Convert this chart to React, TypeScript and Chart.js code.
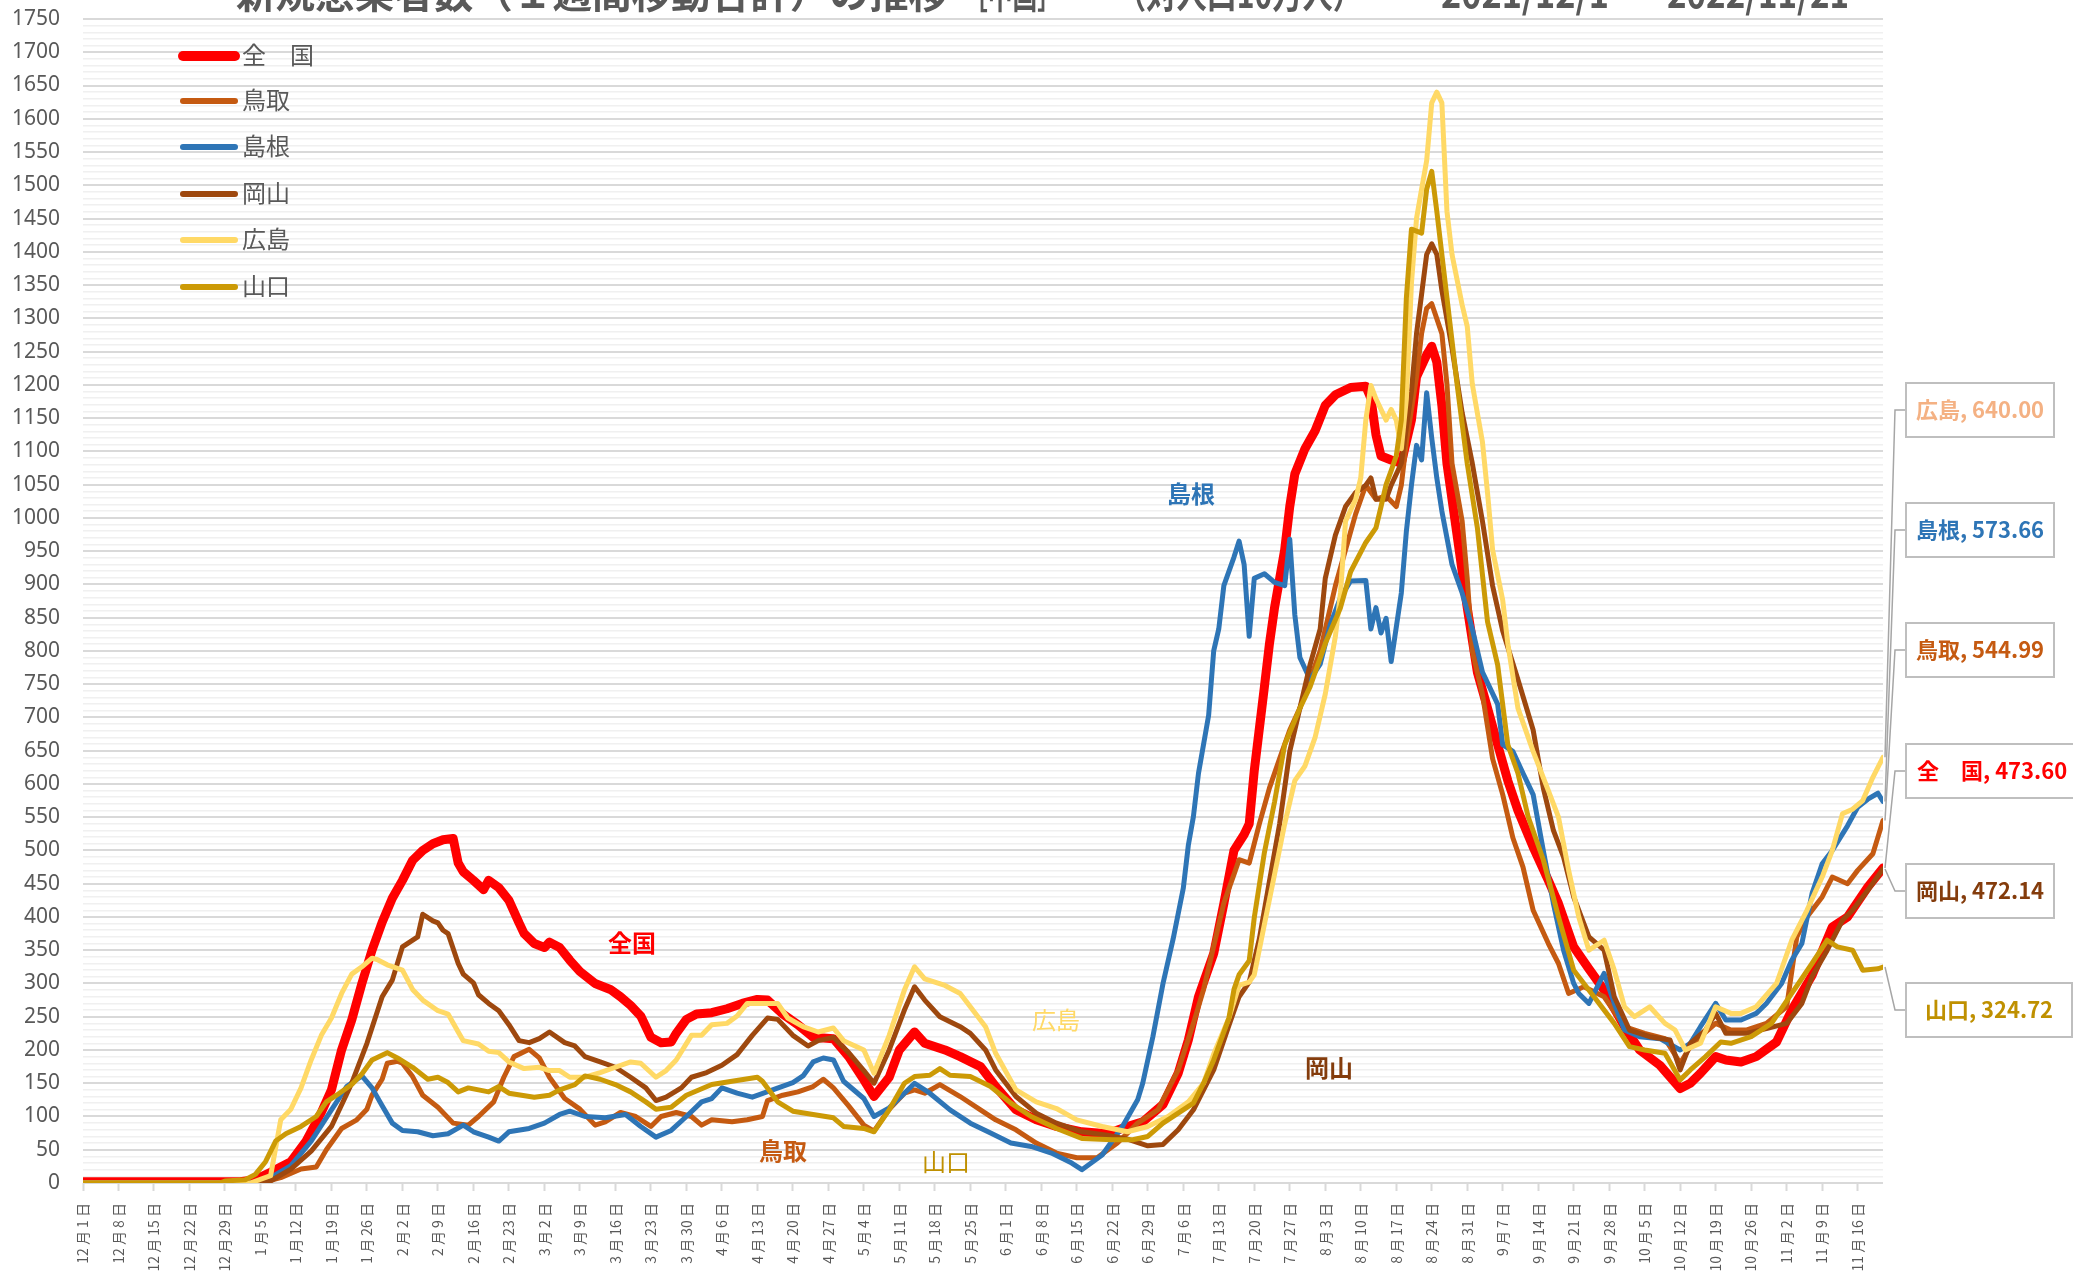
import { useEffect, useRef } from "react";
import { Chart, registerables } from "chart.js";

Chart.register(...registerables);

// ---- data: [day index from 2021/12/1, value per 100k (7-day moving sum)] ----
const zenkoku: [number, number][] = [
  [0, 2], [31, 2], [34, 5], [37, 16], [41, 32], [44, 63], [47, 106], [49, 140], [51, 200], [53, 245], [55, 300], [57, 350], [59, 392], [61, 428], [63, 455], [65, 485], [67, 500], [69, 510], [71, 516], [73, 518], [74, 481], [75, 468], [77, 455], [79, 441], [80, 455], [82, 444], [84, 425], [86, 391], [87, 375], [89, 360], [91, 354], [92, 362], [94, 354], [96, 335], [98, 318], [101, 300], [104, 291], [106, 280], [108, 267], [110, 251], [112, 219], [114, 211], [116, 212], [117, 225], [119, 246], [121, 254], [124, 256], [127, 262], [130, 270], [133, 276], [135, 275], [138, 254], [141, 238], [144, 219], [148, 217], [151, 190], [154, 155], [156, 130], [159, 159], [161, 200], [164, 227], [166, 210], [170, 200], [173, 190], [177, 175], [180, 145], [184, 110], [188, 95], [192, 85], [197, 77], [202, 74], [206, 85], [209, 92], [213, 118], [216, 165], [218, 215], [220, 280], [223, 345], [225, 420], [227, 500], [229, 524], [230, 540], [231, 620], [233, 746], [234, 811], [235, 865], [237, 952], [238, 1017], [239, 1066], [241, 1104], [243, 1131], [245, 1169], [247, 1185], [250, 1196], [253, 1198], [254, 1180], [255, 1125], [256, 1093], [258, 1087], [260, 1082], [262, 1147], [263, 1212], [265, 1245], [266, 1258], [267, 1234], [268, 1169], [269, 1082], [271, 974], [273, 865], [275, 768], [277, 714], [279, 659], [281, 605], [283, 560], [286, 505], [289, 455], [291, 420], [294, 355], [297, 322], [300, 290], [304, 235], [307, 200], [311, 177], [315, 142], [317, 150], [319, 165], [322, 190], [324, 185], [327, 182], [330, 190], [334, 212], [337, 260], [341, 312], [345, 385], [348, 400], [352, 445], [355, 473.6],
];

const tottori: [number, number][] = [
  [0, 0], [35, 0], [39, 8], [43, 21], [46, 24], [48, 50], [51, 82], [54, 95], [56, 111], [57, 132], [59, 156], [60, 180], [62, 183], [63, 180], [65, 160], [67, 132], [70, 114], [73, 90], [76, 87], [78, 100], [81, 122], [83, 159], [85, 190], [88, 201], [90, 188], [92, 159], [95, 127], [98, 111], [101, 87], [103, 92], [106, 106], [109, 100], [112, 85], [114, 100], [117, 106], [120, 100], [122, 87], [124, 95], [128, 92], [131, 95], [134, 100], [135, 124], [138, 132], [141, 137], [144, 145], [146, 156], [148, 143], [151, 116], [154, 87], [156, 78], [159, 111], [162, 135], [164, 140], [166, 135], [169, 148], [173, 130], [177, 110], [180, 95], [184, 80], [188, 60], [192, 45], [196, 38], [200, 38], [204, 60], [208, 90], [212, 110], [216, 170], [219, 240], [221, 291], [223, 356], [225, 421], [227, 464], [228, 486], [230, 481], [232, 540], [234, 594], [236, 638], [238, 681], [240, 714], [242, 757], [244, 800], [246, 865], [247, 898], [249, 952], [251, 1006], [253, 1049], [255, 1028], [257, 1033], [259, 1017], [260, 1049], [261, 1114], [263, 1212], [264, 1277], [265, 1315], [266, 1322], [268, 1277], [269, 1201], [270, 1082], [272, 995], [273, 909], [274, 800], [276, 735], [278, 638], [280, 584], [282, 519], [284, 475], [286, 410], [289, 360], [291, 330], [293, 285], [296, 295], [300, 280], [304, 235], [308, 225], [312, 217], [315, 180], [317, 205], [319, 220], [322, 240], [325, 230], [328, 230], [332, 240], [336, 265], [338, 370], [340, 400], [343, 430], [345, 460], [348, 450], [350, 470], [353, 495], [354, 520], [355, 544.99],
];

const shimane: [number, number][] = [
  [0, 0], [34, 0], [37, 8], [41, 26], [45, 63], [49, 110], [52, 145], [55, 161], [57, 143], [59, 116], [61, 90], [63, 79], [66, 77], [69, 71], [72, 74], [75, 87], [77, 77], [80, 69], [82, 63], [84, 77], [88, 82], [91, 90], [94, 103], [96, 108], [99, 100], [103, 98], [107, 103], [110, 85], [113, 69], [116, 79], [119, 100], [122, 122], [124, 127], [126, 143], [129, 135], [132, 129], [136, 140], [140, 151], [142, 161], [144, 182], [146, 188], [148, 185], [150, 153], [154, 127], [156, 100], [159, 113], [162, 135], [164, 150], [167, 135], [171, 110], [175, 90], [179, 75], [183, 60], [187, 55], [191, 45], [195, 30], [197, 20], [201, 42], [205, 85], [208, 125], [209, 150], [211, 220], [213, 300], [215, 367], [217, 443], [218, 508], [219, 551], [220, 616], [222, 703], [223, 800], [224, 833], [225, 898], [227, 941], [228, 965], [229, 930], [230, 822], [231, 909], [233, 916], [235, 903], [237, 898], [238, 968], [239, 854], [240, 790], [242, 757], [244, 780], [246, 840], [248, 880], [250, 905], [253, 906], [254, 833], [255, 865], [256, 827], [257, 849], [258, 784], [260, 887], [261, 980], [262, 1049], [263, 1109], [264, 1087], [265, 1188], [266, 1120], [267, 1060], [268, 1010], [270, 930], [272, 887], [274, 833], [276, 768], [279, 720], [280, 659], [282, 649], [284, 616], [286, 584], [288, 500], [290, 420], [292, 350], [294, 300], [295, 285], [297, 270], [300, 315], [302, 270], [304, 230], [307, 220], [311, 217], [315, 200], [317, 210], [319, 235], [322, 270], [324, 245], [327, 245], [330, 255], [332, 270], [335, 300], [337, 335], [339, 360], [341, 435], [343, 480], [345, 500], [348, 537], [350, 565], [352, 577], [354, 586], [355, 573.66],
];

const okayama: [number, number][] = [
  [0, 0], [35, 0], [37, 3], [41, 21], [45, 48], [49, 85], [53, 150], [56, 210], [59, 280], [61, 305], [63, 355], [66, 370], [67, 404], [69, 394], [70, 391], [71, 380], [72, 375], [74, 330], [75, 314], [77, 301], [78, 283], [80, 270], [82, 259], [84, 238], [86, 214], [88, 211], [90, 217], [92, 227], [95, 211], [97, 206], [99, 190], [102, 182], [105, 174], [108, 159], [111, 143], [113, 124], [115, 129], [118, 143], [120, 159], [123, 166], [126, 177], [129, 193], [132, 222], [135, 248], [137, 246], [140, 222], [143, 206], [145, 214], [148, 219], [151, 196], [154, 169], [156, 150], [159, 200], [162, 260], [164, 295], [166, 275], [169, 250], [173, 235], [175, 225], [178, 200], [180, 170], [184, 130], [188, 105], [192, 90], [197, 77], [202, 72], [206, 66], [210, 56], [213, 58], [216, 80], [219, 110], [221, 140], [223, 170], [226, 237], [228, 280], [230, 302], [232, 367], [234, 454], [236, 540], [238, 649], [240, 714], [242, 779], [244, 833], [245, 909], [247, 974], [249, 1017], [251, 1038], [253, 1049], [254, 1060], [255, 1028], [257, 1028], [258, 1049], [260, 1082], [262, 1190], [263, 1277], [264, 1336], [265, 1396], [266, 1412], [267, 1396], [268, 1342], [270, 1255], [272, 1158], [274, 1082], [276, 995], [278, 898], [280, 830], [283, 757], [286, 681], [288, 594], [290, 530], [292, 490], [294, 430], [297, 370], [300, 350], [302, 280], [305, 230], [309, 220], [313, 215], [315, 170], [317, 210], [320, 230], [322, 255], [324, 225], [328, 225], [332, 232], [336, 240], [339, 270], [341, 310], [344, 350], [347, 395], [349, 410], [352, 440], [355, 472.14],
];

const hiroshima: [number, number][] = [
  [0, 0], [33, 0], [37, 11], [39, 95], [41, 111], [43, 143], [45, 185], [47, 222], [49, 248], [51, 285], [53, 314], [55, 325], [57, 338], [58, 336], [60, 328], [63, 320], [65, 291], [67, 275], [70, 259], [72, 254], [74, 227], [75, 214], [78, 209], [80, 198], [82, 196], [84, 182], [87, 172], [90, 174], [92, 169], [94, 169], [96, 159], [99, 159], [102, 166], [105, 174], [108, 182], [110, 180], [113, 159], [115, 169], [117, 185], [120, 222], [122, 222], [124, 238], [127, 240], [129, 251], [131, 270], [134, 270], [137, 270], [139, 248], [142, 235], [145, 227], [148, 233], [150, 214], [154, 200], [156, 165], [159, 222], [162, 290], [164, 325], [166, 307], [170, 297], [173, 285], [175, 265], [178, 235], [180, 195], [184, 140], [188, 122], [192, 112], [196, 95], [201, 85], [206, 77], [210, 85], [214, 100], [218, 122], [221, 150], [223, 194], [226, 248], [228, 297], [230, 302], [231, 313], [233, 389], [235, 464], [237, 540], [239, 605], [241, 627], [243, 670], [245, 735], [247, 822], [248, 887], [249, 995], [251, 1028], [252, 1060], [253, 1147], [254, 1199], [255, 1179], [257, 1147], [258, 1163], [259, 1147], [260, 1104], [261, 1179], [262, 1353], [263, 1450], [264, 1494], [265, 1537], [266, 1624], [267, 1640], [268, 1624], [269, 1461], [270, 1396], [272, 1320], [273, 1288], [274, 1201], [276, 1114], [277, 1038], [278, 952], [280, 876], [281, 811], [283, 714], [286, 649], [289, 590], [291, 550], [293, 470], [295, 400], [297, 350], [300, 365], [302, 320], [304, 265], [306, 250], [309, 265], [312, 240], [314, 230], [316, 200], [319, 210], [322, 265], [325, 255], [327, 255], [330, 265], [334, 300], [337, 365], [340, 410], [343, 460], [345, 500], [347, 555], [349, 562], [351, 575], [353, 610], [355, 640],
];

const yamaguchi: [number, number][] = [
  [0, 0], [27, 0], [28, 3], [32, 5], [34, 13], [36, 32], [38, 63], [40, 74], [43, 85], [46, 100], [48, 122], [50, 132], [53, 148], [55, 164], [57, 185], [60, 196], [62, 188], [65, 174], [68, 156], [70, 159], [72, 151], [74, 137], [76, 143], [80, 137], [82, 145], [84, 135], [89, 129], [92, 132], [94, 140], [97, 148], [99, 161], [102, 156], [105, 148], [108, 137], [111, 122], [113, 111], [116, 114], [119, 132], [124, 148], [128, 153], [133, 159], [134, 153], [137, 122], [140, 108], [144, 103], [148, 98], [150, 85], [154, 82], [156, 77], [159, 110], [162, 150], [164, 160], [167, 162], [169, 172], [171, 162], [175, 160], [179, 145], [183, 120], [187, 100], [192, 82], [197, 67], [203, 65], [207, 65], [210, 70], [213, 90], [216, 105], [219, 120], [221, 150], [223, 185], [226, 248], [227, 291], [228, 313], [230, 334], [231, 399], [233, 497], [235, 573], [237, 659], [240, 714], [242, 746], [245, 811], [248, 865], [250, 919], [253, 963], [255, 985], [256, 1017], [257, 1050], [258, 1071], [259, 1093], [260, 1147], [261, 1331], [262, 1434], [264, 1428], [265, 1494], [266, 1521], [267, 1461], [269, 1331], [271, 1201], [273, 1082], [275, 985], [277, 844], [279, 779], [281, 659], [283, 616], [285, 551], [288, 486], [291, 400], [294, 320], [298, 280], [302, 240], [305, 205], [308, 200], [312, 195], [315, 155], [317, 170], [320, 190], [323, 212], [325, 210], [329, 220], [333, 240], [337, 285], [341, 330], [344, 365], [346, 355], [349, 350], [351, 320], [354, 322], [355, 324.72],
];

const seriesNames = ["全　国", "鳥取", "島根", "岡山", "広島", "山口"];
const seriesData = [zenkoku, tottori, shimane, okayama, hiroshima, yamaguchi];
const seriesColors = ["#FF0000", "#C55A11", "#2E75B6", "#9E480E", "#FFD966", "#CC9A06"];

const xTickDays = [0, 7, 14, 21, 28, 35, 42, 49, 56, 63, 70, 77, 84, 91, 98, 105, 112, 119, 126, 133, 140, 147, 154, 161, 168, 175, 182, 189, 196, 203, 210, 217, 224, 231, 238, 245, 252, 259, 266, 273, 280, 287, 294, 301, 308, 315, 322, 329, 336, 343, 350];

// title pieces: text, left edge and width they occupy in the picture
const titleParts = [
  { text: "新規感染者数（１週間移動合計）の推移", x: 236, w: 712 },
  { text: "［中国］", x: 963, w: 99 },
  { text: "（対人口10万人）", x: 1116, w: 247 },
  { text: "2021/12/1", x: 1441, w: 168 },
  { text: "～", x: 1622, w: 32 },
  { text: "2022/11/21", x: 1667, w: 182 },
];

// value-label callouts on the right (series index, label text colour)
const callouts = [
  { idx: 4, color: "#F4B183" },
  { idx: 2, color: "#2E75B6" },
  { idx: 1, color: "#C55A11" },
  { idx: 0, color: "#FF0000" },
  { idx: 3, color: "#843C0C" },
  { idx: 5, color: "#BF9000" },
];

// in-plot series name labels
const inlineLabels = [
  { text: "全国", color: "#FF0000", bold: true, x: 632, y: 943 },
  { text: "鳥取", color: "#C55A11", bold: true, x: 783, y: 1151 },
  { text: "山口", color: "#BF9000", bold: false, x: 946, y: 1162 },
  { text: "広島", color: "#FFD966", bold: false, x: 1056, y: 1020 },
  { text: "岡山", color: "#843C0C", bold: true, x: 1329, y: 1068 },
  { text: "島根", color: "#2E75B6", bold: true, x: 1191, y: 494 },
];

const CJK = '"Noto Sans CJK JP", "Noto Sans", sans-serif';

const dayLabel = (d: number) => {
  const dt = new Date(2021, 11, 1 + d);
  return `${dt.getMonth() + 1} 月 ${dt.getDate()} 日`;
};

const overlayPlugin = {
  id: "overlay",
  afterDraw(chart: any) {
    const ctx: CanvasRenderingContext2D = chart.ctx;
    const xs = chart.scales.x;
    const ys = chart.scales.y;
    ctx.save();

    // title (mostly cut off at the top)
    ctx.fillStyle = "#595959";
    ctx.font = `bold 40px ${CJK}`;
    ctx.textAlign = "left";
    ctx.textBaseline = "alphabetic";
    titleParts.forEach((p) => {
      const mw = ctx.measureText(p.text).width;
      ctx.save();
      ctx.translate(p.x, 8);
      ctx.scale(p.w / mw, 1);
      ctx.fillText(p.text, 0, 0);
      ctx.restore();
    });

    // legend
    const rows = [56, 101, 147, 194, 240, 287];
    seriesNames.forEach((name, i) => {
      ctx.strokeStyle = seriesColors[i];
      ctx.lineCap = "round";
      ctx.lineWidth = i === 0 ? 10 : 6;
      ctx.beginPath();
      ctx.moveTo(183, rows[i]);
      ctx.lineTo(235, rows[i]);
      ctx.stroke();
      ctx.fillStyle = "#595959";
      ctx.font = `24px ${CJK}`;
      ctx.textAlign = "left";
      ctx.textBaseline = "middle";
      ctx.fillText(name, 242, rows[i] - 1);
    });

    // inline labels
    inlineLabels.forEach((l) => {
      ctx.fillStyle = l.color;
      ctx.font = `${l.bold ? "bold " : ""}24px ${CJK}`;
      ctx.textAlign = "center";
      ctx.textBaseline = "middle";
      ctx.fillText(l.text, l.x, l.y);
    });

    // callouts
    const tops = [383, 503, 623, 744, 864, 983];
    const widths = [148, 148, 148, 200, 148, 166];
    callouts.forEach((c, k) => {
      const d = seriesData[c.idx];
      const last = d[d.length - 1];
      const px = xs.getPixelForValue(last[0]);
      const py = ys.getPixelForValue(last[1]);
      const top = tops[k];
      const mid = top + 27;
      const left = 1906;
      ctx.strokeStyle = "#A6A6A6";
      ctx.lineWidth = 1.5;
      ctx.lineCap = "butt";
      ctx.beginPath();
      ctx.moveTo(px + 2, py);
      ctx.lineTo(1895, mid);
      ctx.lineTo(left, mid);
      ctx.stroke();
      ctx.fillStyle = "#FFFFFF";
      ctx.fillRect(left, top, widths[k], 54);
      ctx.strokeStyle = "#BFBFBF";
      ctx.lineWidth = 2;
      ctx.strokeRect(left, top, widths[k], 54);
      ctx.fillStyle = c.color;
      ctx.font = `bold 22px ${CJK}`;
      ctx.textBaseline = "middle";
      const txt = `${seriesNames[c.idx]}, ${last[1].toFixed(2)}`;
      if (c.idx === 0) {
        ctx.textAlign = "left";
        ctx.fillText(txt, left + 11, mid);
      } else {
        ctx.textAlign = "center";
        ctx.fillText(txt, left + widths[k] / 2, mid);
      }
    });
    ctx.restore();
  },
};

export default function App() {
  const ref = useRef<HTMLCanvasElement>(null);
  useEffect(() => {
    const canvas = ref.current!;
    const yTicks: number[] = [];
    for (let v = 0; v <= 1750; v += 10) yTicks.push(v);
    const chart = new Chart(canvas, {
      type: "line",
      data: {
        datasets: seriesData.map((d, i) => ({
          label: seriesNames[i],
          data: d.map(([x, y]) => ({ x, y })),
          borderColor: seriesColors[i],
          backgroundColor: seriesColors[i],
          borderWidth: i === 0 ? 9 : 5,
          pointRadius: 0,
          tension: 0,
          borderJoinStyle: "round",
          borderCapStyle: "round",
          fill: false,
          order: 6 - i,
        })),
      },
      options: {
        animation: false,
        responsive: false,
        devicePixelRatio: 1,
        layout: { padding: { top: 19, right: 190, bottom: 0, left: 0 } },
        plugins: {
          legend: { display: false },
          tooltip: { enabled: false },
          title: { display: false },
        },
        scales: {
          x: {
            type: "linear",
            min: 0,
            max: 355,
            afterBuildTicks: (s: any) => {
              s.ticks = xTickDays.map((v) => ({ value: v }));
            },
            afterFit: (s: any) => {
              s.height = 89;
              s.paddingLeft = 0;
              s.paddingRight = 0;
            },
            ticks: {
              autoSkip: false,
              minRotation: 90,
              maxRotation: 90,
              padding: 12,
              color: "#595959",
              font: { size: 14, family: CJK },
              callback: (v: any) => dayLabel(Number(v)),
            },
            grid: {
              drawOnChartArea: false,
              drawTicks: true,
              tickLength: 8,
              tickColor: "#D9D9D9",
              tickWidth: 2,
            },
            border: { display: false },
          },
          y: {
            min: 0,
            max: 1750,
            afterBuildTicks: (s: any) => {
              s.ticks = yTicks.map((v) => ({ value: v }));
            },
            afterFit: (s: any) => {
              s.width = 83;
              s.paddingTop = 0;
              s.paddingBottom = 0;
            },
            ticks: {
              autoSkip: false,
              padding: 23,
              color: "#595959",
              font: { size: 21, family: '"Noto Sans", sans-serif' },
              callback: (v: any) => (Number(v) % 50 === 0 ? String(v) : ""),
            },
            grid: {
              drawTicks: false,
              color: (c: any) => (c.tick && c.tick.value % 50 === 0 ? "#D9D9D9" : "#F0F0F0"),
              lineWidth: (c: any) => (c.tick && c.tick.value % 50 === 0 ? 2 : 1.5),
            },
            border: { display: false },
          },
        },
      } as any,
      plugins: [overlayPlugin],
    });
    return () => chart.destroy();
  }, []);
  return (
    <div style={{ position: "fixed", left: 0, top: 0, width: 2073, height: 1272, background: "#fff" }}>
      <canvas ref={ref} width={2073} height={1272} style={{ width: 2073, height: 1272, display: "block" }} />
    </div>
  );
}
